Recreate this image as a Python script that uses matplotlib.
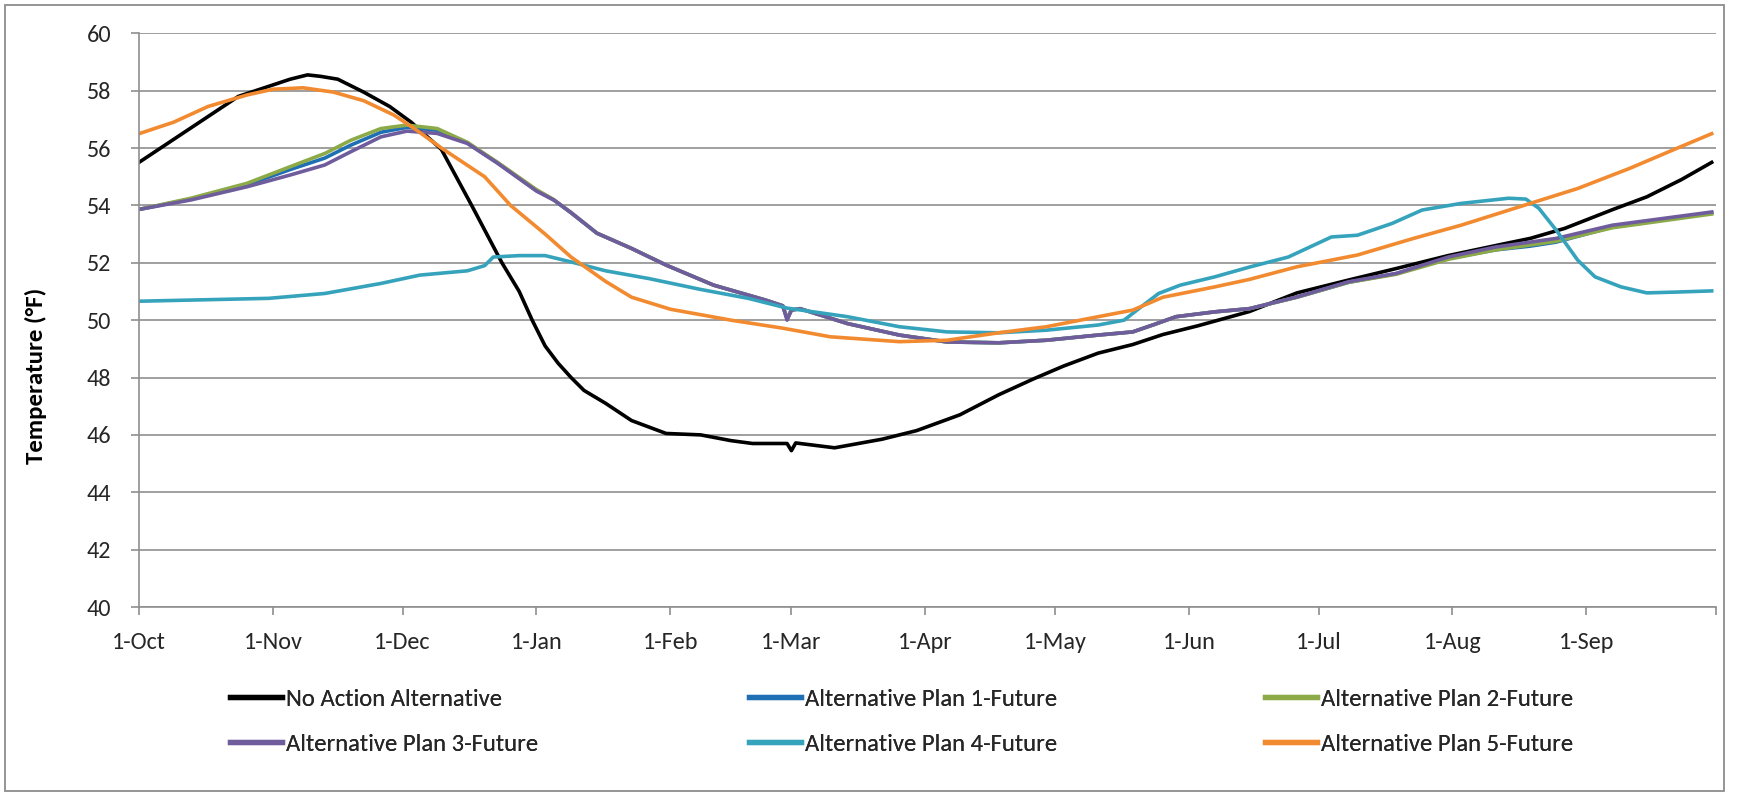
import matplotlib
matplotlib.use('Agg')
import matplotlib.pyplot as plt
from matplotlib import font_manager
from matplotlib.patches import Rectangle

# ---------------- data (day of water year, 0 = 1-Oct) ----------------
month_days = [0, 31, 61, 92, 123, 151, 182, 212, 243, 273, 304, 335, 365]
month_labels = ['1-Oct', '1-Nov', '1-Dec', '1-Jan', '1-Feb', '1-Mar', '1-Apr',
                '1-May', '1-Jun', '1-Jul', '1-Aug', '1-Sep', '']
y_ticks = [40, 42, 44, 46, 48, 50, 52, 54, 56, 58, 60]

no_action_days = [0, 8, 15, 23, 30, 35, 39, 42, 46, 52, 58, 63, 70, 77, 84, 88, 91, 94,
                  97, 100, 103, 108, 114, 122, 130, 137, 142, 150, 151, 152, 153, 161,
                  172, 180, 190, 199, 207, 214, 222, 230, 237, 245, 257, 268, 280, 291,
                  303, 314, 322, 330, 341, 349, 357, 364]
no_action = [55.5, 56.3, 57.0, 57.8, 58.15, 58.4, 58.55, 58.5, 58.4, 57.95, 57.45, 56.9,
             55.95, 54.0, 52.0, 51.0, 50.0, 49.1, 48.5, 48.0, 47.55, 47.1, 46.5, 46.05,
             46.0, 45.8, 45.7, 45.7, 45.45, 45.72, 45.7, 45.55, 45.85, 46.15, 46.7, 47.4,
             47.95, 48.4, 48.85, 49.15, 49.5, 49.8, 50.3, 50.95, 51.4, 51.8, 52.25, 52.6,
             52.85, 53.2, 53.85, 54.3, 54.9, 55.5]

plan_days = [0, 12, 25, 35, 43, 49, 56, 62, 69, 76, 83, 92, 96, 100, 106, 114, 122, 133,
             145, 149, 150, 151, 153, 164, 176, 187, 199, 210, 222, 230, 235, 240, 249,
             257, 268, 280, 291, 303, 314, 322, 328, 341, 364]
plan1 = [53.86, 54.22, 54.72, 55.25, 55.65, 56.1, 56.55, 56.72, 56.62, 56.18, 55.48,
         54.52, 54.19, 53.74, 53.03, 52.5, 51.92, 51.22, 50.7, 50.5, 50.05, 50.35, 50.4,
         49.88, 49.48, 49.24, 49.21, 49.3, 49.48, 49.59, 49.85, 50.12, 50.29, 50.4, 50.8,
         51.32, 51.62, 52.15, 52.45, 52.58, 52.72, 53.25, 53.74]
plan2 = [53.86, 54.25, 54.77, 55.35, 55.81, 56.27, 56.68, 56.8, 56.68, 56.2, 55.5,
         54.55, 54.2, 53.75, 53.03, 52.5, 51.92, 51.22, 50.7, 50.5, 50.05, 50.35, 50.4,
         49.88, 49.48, 49.24, 49.21, 49.3, 49.48, 49.59, 49.85, 50.12, 50.29, 50.4, 50.8,
         51.32, 51.6, 52.12, 52.45, 52.62, 52.75, 53.22, 53.7]
plan3 = [53.86, 54.19, 54.65, 55.06, 55.41, 55.87, 56.39, 56.59, 56.51, 56.16, 55.47,
         54.5, 54.19, 53.75, 53.03, 52.5, 51.92, 51.22, 50.7, 50.5, 50.0, 50.35, 50.4,
         49.88, 49.48, 49.24, 49.21, 49.3, 49.48, 49.59, 49.85, 50.12, 50.29, 50.4, 50.81,
         51.34, 51.63, 52.2, 52.55, 52.72, 52.85, 53.31, 53.77]

plan4_days = [0, 12, 30, 43, 56, 65, 76, 80, 82, 88, 94, 100, 108, 118, 130, 141, 150,
              164, 176, 187, 199, 210, 222, 228, 232, 236, 241, 249, 257, 266, 276, 282,
              290, 297, 306, 317, 321, 324, 328, 333, 337, 343, 349, 356, 364]
plan4 = [50.66, 50.7, 50.76, 50.93, 51.28, 51.57, 51.72, 51.9, 52.2, 52.25, 52.25, 52.03,
         51.72, 51.45, 51.07, 50.76, 50.42, 50.12, 49.77, 49.59, 49.56, 49.65, 49.83,
         50.0, 50.47, 50.93, 51.22, 51.51, 51.85, 52.2, 52.9, 52.96, 53.37, 53.84, 54.07,
         54.25, 54.22, 53.9, 53.14, 52.09, 51.51, 51.16, 50.95, 50.98, 51.02]

plan5_days = [0, 8, 16, 25, 31, 38, 45, 52, 59, 64, 70, 80, 86, 94, 100, 108, 114, 123,
              137, 149, 160, 176, 187, 199, 210, 222, 230, 237, 249, 257, 268, 282, 295,
              306, 322, 333, 345, 355, 364]
plan5 = [56.5, 56.9, 57.45, 57.85, 58.05, 58.1, 57.95, 57.65, 57.15, 56.65, 56.0, 55.0,
         54.0, 53.0, 52.2, 51.35, 50.8, 50.38, 50.0, 49.72, 49.42, 49.25, 49.3, 49.56,
         49.77, 50.12, 50.35, 50.8, 51.16, 51.42, 51.86, 52.27, 52.85, 53.31, 54.07,
         54.59, 55.29, 55.93, 56.5]

series_names = ['No Action Alternative', 'Alternative Plan 1-Future',
                'Alternative Plan 2-Future', 'Alternative Plan 3-Future',
                'Alternative Plan 4-Future', 'Alternative Plan 5-Future']

# ---------------- font choice ----------------
available = {f.name for f in font_manager.fontManager.ttflist}
FONT = 'DejaVu Sans'
for cand in ['Carlito', 'Fira Sans Condensed', 'Pragati Narrow', 'Liberation Sans Narrow',
             'Open Sans', 'Liberation Sans']:
    if cand in available:
        FONT = cand
        break
plt.rcParams['font.family'] = [FONT, 'DejaVu Sans']

colors = ['#000000', '#1F6FB5', '#8CAA48', '#6F5C9C', '#36A3BC', '#F28A30']
W, H = 1741, 794
fig = plt.figure(figsize=(W / 100, H / 100), dpi=100)
renderer = fig.canvas.get_renderer()


def fit_size(text, target_px, weight='normal', base=16.0):
    t = fig.text(0, 0, text, fontsize=base, fontweight=weight)
    w = t.get_window_extent(renderer).width
    t.remove()
    return base * target_px / w


tick_fs = fit_size('1-Oct', 54)
leg_fs = fit_size('No Action Alternative', 216)
lab_fs = fit_size('Temperature (°F)', 177, weight='bold')

ax = fig.add_axes([139 / W, 1 - 607 / H, (1716 - 139) / W, (607 - 33.3) / H])

xs = [no_action_days, plan_days, plan_days, plan_days, plan4_days, plan5_days]
ys = [no_action, plan1, plan2, plan3, plan4, plan5]
handles = []
for x, y, c, n in zip(xs, ys, colors, series_names):
    h, = ax.plot(x, y, color=c, lw=2.6, label=n, solid_joinstyle='round')
    handles.append(h)

ax.set_xlim(0, 365)
ax.set_ylim(40, 60)
ax.set_xticks(month_days)
ax.set_xticklabels(month_labels)
ax.set_yticks(y_ticks)
ax.grid(axis='y', color='#8F8F8F', lw=1.2)
ax.set_axisbelow(True)
for s in ['top', 'right']:
    ax.spines[s].set_visible(False)
for s in ['left', 'bottom']:
    ax.spines[s].set_color('#8F8F8F')
    ax.spines[s].set_linewidth(1.2)
ax.tick_params(axis='both', colors='#8F8F8F', length=6, width=1.2,
               labelcolor='#262626', labelsize=tick_fs)
ax.tick_params(axis='x', pad=12)
ax.tick_params(axis='y', pad=14)
ax.set_ylabel('Temperature (°F)', fontsize=lab_fs, fontweight='bold', color='#000000',
              ha='center', va='center')
ax.yaxis.set_label_coords((36 - 139) / (1716 - 139), (607 - 376) / (607 - 33.3))

# legend: 3 columns x 2 rows, each entry placed explicitly
fs_px = leg_fs * 100 / 72
col_x = [230, 749, 1265]
row_y = [699, 744]
for i, h in enumerate(handles):
    cx = col_x[i % 3]
    cy = row_y[i // 3]
    leg = fig.legend([h], [h.get_label()], loc='center left',
                     bbox_to_anchor=(cx / W, 1 - cy / H), frameon=False,
                     borderpad=0, borderaxespad=0, handlelength=52 / fs_px,
                     handletextpad=4 / fs_px, prop={'size': leg_fs})
    for lh in leg.legend_handles:
        lh.set_linewidth(3.8)
    leg.get_texts()[0].set_color('#262626')
    fig.add_artist(leg)

fig.patches.append(Rectangle((5 / W, 1 - 791 / H), (1724 - 5) / W, (791 - 5) / H,
                             transform=fig.transFigure, fill=False,
                             edgecolor='#8C8C8C', lw=1.3))

fig.savefig('out.png', dpi=100)
